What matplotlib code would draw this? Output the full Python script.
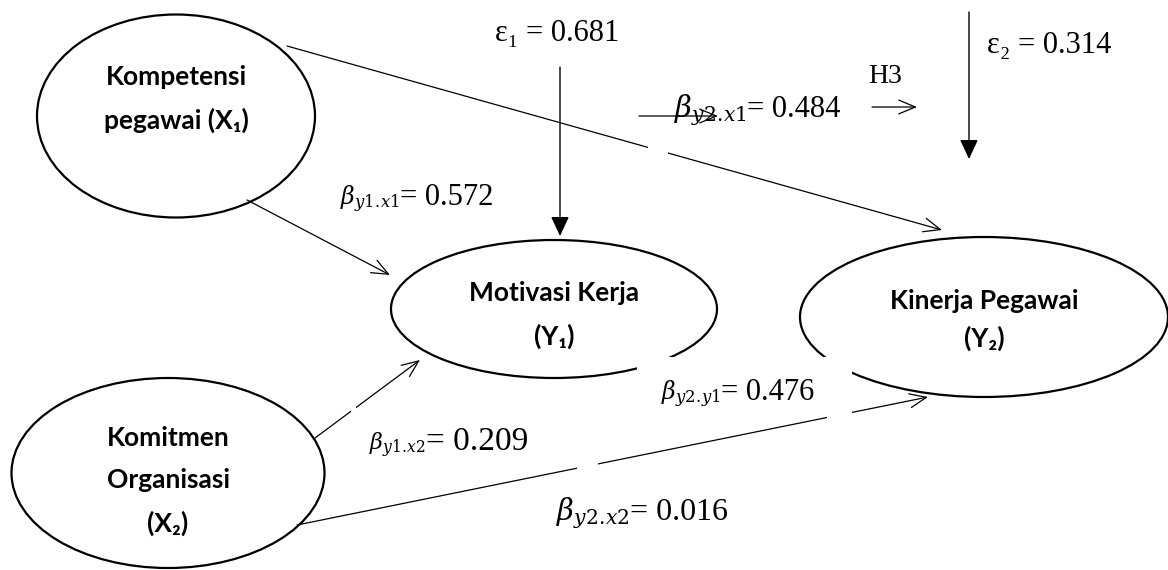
import matplotlib
matplotlib.use("Agg")
import matplotlib.pyplot as plt
from matplotlib.patches import Ellipse, Rectangle

# latent variables of the path model
node_labels = ["Kompetensi\npegawai (X₁)", "Motivasi Kerja\n(Y₁)",
               "Kinerja Pegawai\n(Y₂)", "Komitmen\nOrganisasi\n(X₂)"]

# path coefficients
path_names = [r"$\beta_{y1.\!x1}$", r"$\beta_{y2.\!x1}$", r"$\beta_{y2.\!y1}$",
              r"$\beta_{y1.\!x2}$", r"$\beta_{y2.\!x2}$"]
path_values = [0.572, 0.484, 0.476, 0.209, 0.016]

# residual (epsilon) terms
error_names = ["ε₁", "ε₂"]
error_values = [0.681, 0.314]

hyp_label = "H3"

# ---- layout (pixel space, y goes down) ----
node_xy = [(176, 116), (554, 309), (984, 317), (168, 473)]
node_wh = [(278, 203), (326, 138), (368, 160), (313, 190)]
node_lsp = [1.9, 1.93, 1.6, 1.9]
node_txt_y = [99, 315, 320, 481]

# arrows between nodes: start, tip
paths = [((247, 200), (390, 275)),
         ((287, 46), (942, 230)),
         ((315, 438), (420, 360)),
         ((297, 525), (928, 397))]

# label anchors: junction between beta and value, baseline y
lab_pos = [(400, 205), (747, 117), (721, 400), (426, 450), (630, 520)]
beta_size = [17, 21, 17, 16, 21]
val_size = [22, 22, 22, 24, 23]

err_x = [560, 969]
err_y = [(67, 236), (12, 159)]
err_text = [(557, 41, "center"), (987, 53, "left")]

# white boxes that cut the lines (hidden text boxes in the original)
gaps = [(637, 357, 215, 48), (827, 395, 25, 26), (577, 455, 21, 22),
        (648, 140, 20, 20), (351, 404, 5, 11)]

plt.rcParams["mathtext.fontset"] = "dejavuserif"
serif = ["Liberation Serif", "DejaVu Serif"]
sans = ["Lato", "DejaVu Sans"]

fig = plt.figure(figsize=(11.68, 5.70), dpi=100)
ax = fig.add_axes([0, 0, 1, 1])
ax.set_xlim(0, 1168)
ax.set_ylim(570, 0)
ax.axis("off")

for lab, (cx, cy), (w, h), lsp, ty in zip(node_labels, node_xy, node_wh, node_lsp, node_txt_y):
    ax.add_patch(Ellipse((cx, cy), w, h, fill=False, lw=1.6, ec="black", zorder=2))
    ax.text(cx, ty, lab, ha="center", va="center", fontsize=19, fontweight="bold",
            family=sans, linespacing=lsp, zorder=5)

open_head = "->,head_length=0.6,head_width=0.25"
for (p0, p1) in paths:
    ax.annotate("", xy=p1, xytext=p0,
                arrowprops=dict(arrowstyle=open_head, lw=0.9, color="black",
                                shrinkA=0, shrinkB=0, mutation_scale=20), zorder=2)

for x, (y0, y1) in zip(err_x, err_y):
    ax.annotate("", xy=(x, y1), xytext=(x, y0),
                arrowprops=dict(arrowstyle="-|>,head_length=0.6,head_width=0.28", lw=1.0,
                                color="black", fc="black", shrinkA=0, shrinkB=0,
                                mutation_scale=20), zorder=2)

for (x, y, w, h) in gaps:
    ax.add_patch(Rectangle((x, y), w, h, fc="white", ec="none", zorder=3))

for name, val, (x, y), bs, vs in zip(path_names, path_values, lab_pos, beta_size, val_size):
    ax.text(x, y, name, ha="right", va="baseline", fontsize=bs, zorder=5)
    ax.text(x, y, f"= {val:.3f}", ha="left", va="baseline", fontsize=vs, family=serif, zorder=5)

for name, val, (x, y, ha) in zip(error_names, error_values, err_text):
    ax.text(x, y, f"{name} = {val:.3f}", ha=ha, va="baseline", fontsize=22, family=serif, zorder=5)

# H3 marker and stray arrows from the source drawing
ax.text(885, 83, hyp_label, ha="center", va="baseline", fontsize=20, family=serif, zorder=5)
ax.annotate("", xy=(917, 107), xytext=(872, 107),
            arrowprops=dict(arrowstyle=open_head, lw=0.9, color="black",
                            shrinkA=0, shrinkB=0, mutation_scale=20), zorder=6)
ax.annotate("", xy=(718, 116), xytext=(639, 116),
            arrowprops=dict(arrowstyle=open_head, lw=0.9, color="black",
                            shrinkA=0, shrinkB=0, mutation_scale=20), zorder=6)

fig.savefig("out.png", dpi=100, facecolor="white")
